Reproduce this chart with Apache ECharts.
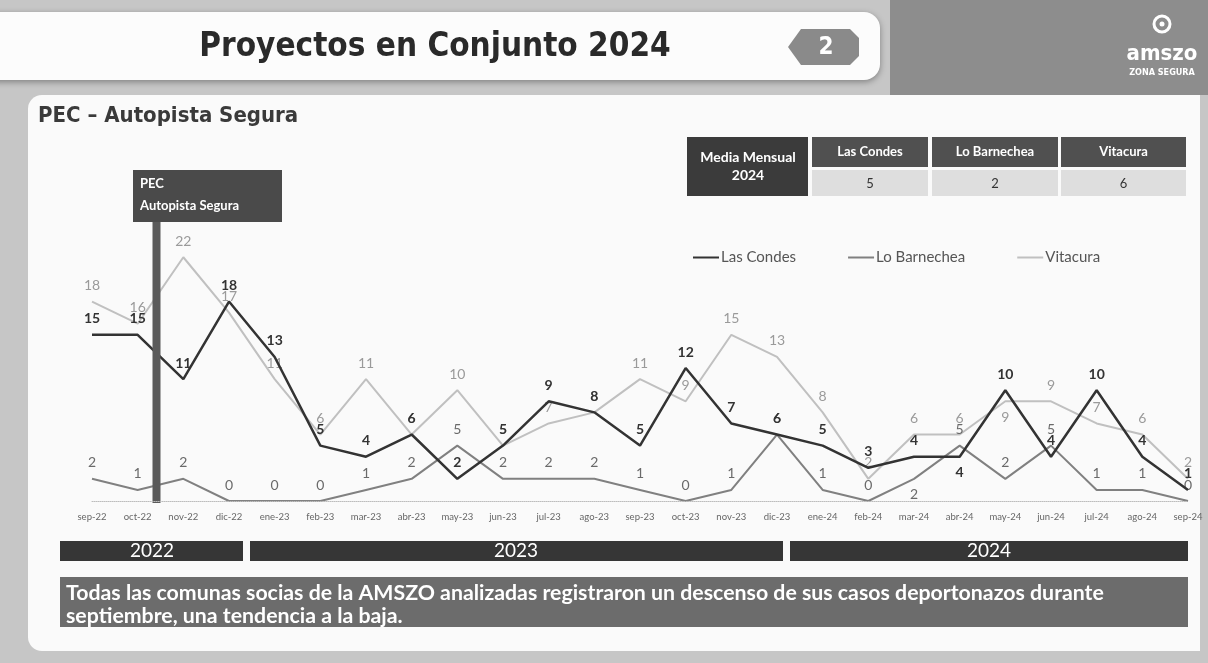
<!DOCTYPE html>
<html>
<head>
<meta charset="utf-8">
<script src="https://cdn.jsdelivr.net/npm/echarts@6/dist/echarts.min.js"></script>
<style>
  html, body { margin: 0; padding: 0; background: #c6c6c6; }
  #chart { width: 1208px; height: 663px; }
</style>
</head>
<body>
<div id="chart"></div>
<script>
// meses sep-22 .. sep-24
const months = ["sep-22", "oct-22", "nov-22", "dic-22", "ene-23", "feb-23", "mar-23", "abr-23", "may-23",
    "jun-23", "jul-23", "ago-23", "sep-23", "oct-23", "nov-23", "dic-23", "ene-24", "feb-24", "mar-24",
    "abr-24", "may-24", "jun-24", "jul-24", "ago-24", "sep-24"];
const lasCondes = [15, 15, 11, 18, 13, 5, 4, 6, 2, 5, 9, 8, 5, 12, 7, 6, 5, 3, 4, 4, 10, 4, 10, 4, 1];
const loBarnechea = [2, 1, 2, 0, 0, 0, 1, 2, 5, 2, 2, 2, 1, 0, 1, 6, 1, 0, 2, 5, 2, 5, 1, 1, 0];
const vitacura = [18, 16, 22, 17, 11, 6, 11, 6, 10, 5, 7, 8, 11, 9, 15, 13, 8, 2, 6, 6, 9, 9, 7, 6, 2];
// media mensual 2024
const tableHeaders = ["Las Condes", "Lo Barnechea", "Vitacura"];
const tableValues = [5, 2, 6];
// etiquetas que van bajo el punto
const lcBelow = [19];
const lbBelow = [18];
const vitBelow = [20];

const font = "Lato, 'Open Sans', sans-serif";
const condensed = "'DejaVu Sans Condensed', 'Liberation Sans Narrow', Roboto, sans-serif";

function withLabels(values, below) {
    return values.map((v, i) => below.indexOf(i) >= 0 ? { value: v, label: { position: "bottom" } } : v);
}

const chart = echarts.init(document.getElementById("chart"));

// decoración de la lámina
const deco = [
    // panel derecho con logo
    { type: "rect", shape: { x: 890, y: 0, width: 318, height: 95 }, style: { fill: "#8d8d8d" }, z: -5 },
    { type: "circle", shape: { cx: 1162, cy: 24, r: 8 }, style: { fill: "none", stroke: "#fff", lineWidth: 3 }, z: -4 },
    { type: "circle", shape: { cx: 1162, cy: 24, r: 2.5 }, style: { fill: "#fff" }, z: -4 },
    { type: "text", x: 1162, y: 54, style: { text: "amszo", fill: "#fff", font: "bold 22px " + condensed, align: "center", verticalAlign: "middle" }, z: -4 },
    { type: "text", x: 1162, y: 73, style: { text: "ZONA SEGURA", fill: "#fff", font: "bold 9px " + condensed, align: "center", verticalAlign: "middle" }, z: -4 },
    // barra de título
    { type: "rect", shape: { x: -20, y: 12, width: 900, height: 68, r: [0, 16, 16, 0] },
      style: { fill: "#fcfcfc", shadowBlur: 6, shadowColor: "rgba(0,0,0,0.35)", shadowOffsetY: 2 }, z: -4 },
    { type: "text", x: 435, y: 47, style: { text: "Proyectos en Conjunto 2024", fill: "#2a2a2a", font: "bold 33px " + condensed, align: "center", verticalAlign: "middle" }, z: -3 },
    { type: "polygon", shape: { points: [[788, 47], [801, 29], [850, 29], [859, 38], [859, 56], [850, 65], [801, 65]] }, style: { fill: "#8a8a8a" }, z: -3 },
    { type: "text", x: 826, y: 48, style: { text: "2", fill: "#fff", font: "bold 24px " + condensed, align: "center", verticalAlign: "middle" }, z: -2 },
    // panel de contenido
    { type: "rect", shape: { x: 28, y: 95, width: 1172, height: 556, r: [14, 0, 0, 14] }, style: { fill: "#fafafa" }, z: -5 },
    { type: "text", x: 38, y: 116, style: { text: "PEC – Autopista Segura", fill: "#3a3a3a", font: "bold 22px " + condensed, verticalAlign: "middle" }, z: -4 },
    // tabla media mensual
    { type: "rect", shape: { x: 687, y: 137, width: 121, height: 59 }, style: { fill: "#3b3b3b" }, z: -4 },
    { type: "text", x: 748, y: 157, style: { text: "Media Mensual", fill: "#fff", font: "bold 14px " + font, align: "center", verticalAlign: "middle" }, z: -3 },
    { type: "text", x: 748, y: 175, style: { text: "2024", fill: "#fff", font: "bold 14px " + font, align: "center", verticalAlign: "middle" }, z: -3 },
    // año
    { type: "rect", shape: { x: 60, y: 541, width: 183, height: 20 }, style: { fill: "#363636" }, z: -4 },
    { type: "text", x: 152, y: 551, style: { text: "2022", fill: "#fff", font: "19px " + font, align: "center", verticalAlign: "middle" }, z: -3 },
    { type: "rect", shape: { x: 250, y: 541, width: 533, height: 20 }, style: { fill: "#363636" }, z: -4 },
    { type: "text", x: 516, y: 551, style: { text: "2023", fill: "#fff", font: "19px " + font, align: "center", verticalAlign: "middle" }, z: -3 },
    { type: "rect", shape: { x: 790, y: 541, width: 398, height: 20 }, style: { fill: "#363636" }, z: -4 },
    { type: "text", x: 989, y: 551, style: { text: "2024", fill: "#fff", font: "19px " + font, align: "center", verticalAlign: "middle" }, z: -3 },
    // conclusión
    { type: "rect", shape: { x: 60, y: 577, width: 1128, height: 50 }, style: { fill: "#6c6c6c" }, z: -4 },
    { type: "text", x: 66, y: 593, style: { text: "Todas las comunas socias de la AMSZO analizadas registraron un descenso de sus casos deportonazos durante", fill: "#fff", font: "bold 21.3px " + font, verticalAlign: "middle" }, z: -3 },
    { type: "text", x: 66, y: 616, style: { text: "septiembre, una tendencia a la baja.", fill: "#fff", font: "bold 21.3px " + font, verticalAlign: "middle" }, z: -3 }
];
const cellX = [812, 932, 1061];
const cellW = [116, 126, 125];
tableHeaders.forEach((h, i) => {
    deco.push({ type: "rect", shape: { x: cellX[i], y: 137, width: cellW[i], height: 30 }, style: { fill: "#505050" }, z: -4 });
    deco.push({ type: "text", x: cellX[i] + cellW[i] / 2, y: 152, style: { text: h, fill: "#fff", font: "bold 13px " + font, align: "center", verticalAlign: "middle" }, z: -3 });
    deco.push({ type: "rect", shape: { x: cellX[i], y: 170, width: cellW[i], height: 26 }, style: { fill: "#dedede" }, z: -4 });
    deco.push({ type: "text", x: cellX[i] + cellW[i] / 2, y: 184, style: { text: String(tableValues[i]), fill: "#333", font: "13px " + font, align: "center", verticalAlign: "middle" }, z: -3 });
});

const lineLabel = { show: true, position: "top", distance: 9, fontFamily: font, fontSize: 14 };

chart.setOption({
    backgroundColor: "#c6c6c6",
    animation: false,
    legend: {
        data: ["Las Condes", "Lo Barnechea", "Vitacura"],
        left: 688,
        top: 245,
        icon: "rect",
        itemWidth: 26,
        itemHeight: 2,
        itemGap: 52,
        textStyle: { fontFamily: font, fontSize: 15, color: "#555", padding: [0, 0, 0, -3] }
    },
    grid: { left: 92, right: 20, top: 224, bottom: 162 },
    xAxis: {
        type: "category",
        data: months,
        boundaryGap: false,
        z: 10,
        axisLine: { lineStyle: { color: "#bdbdbd", type: "dotted", width: 1 } },
        axisTick: { show: false },
        axisLabel: { fontFamily: font, fontSize: 9.5, color: "#666", margin: 11, interval: 0 }
    },
    yAxis: { type: "value", min: 0, max: 25, show: false, splitLine: { show: false } },
    series: [
        {
            name: "Vitacura", type: "line", data: withLabels(vitacura, vitBelow), symbol: "circle", symbolSize: 0, z: 2,
            lineStyle: { color: "#c0c0c0", width: 2 }, itemStyle: { color: "#c0c0c0" },
            label: Object.assign({}, lineLabel, { color: "#9a9a9a" })
        },
        {
            name: "Lo Barnechea", type: "line", data: withLabels(loBarnechea, lbBelow), symbol: "circle", symbolSize: 0, z: 3,
            lineStyle: { color: "#808080", width: 2 }, itemStyle: { color: "#808080" },
            label: Object.assign({}, lineLabel, { color: "#6a6a6a" })
        },
        {
            name: "Las Condes", type: "line", data: withLabels(lasCondes, lcBelow), symbol: "circle", symbolSize: 0, z: 4,
            lineStyle: { color: "#333333", width: 2.5 }, itemStyle: { color: "#333333" },
            label: Object.assign({}, lineLabel, { color: "#333", fontWeight: "bold" })
        }
    ],
    graphic: deco
});

// barra vertical PEC entre oct-22 y nov-22
const p1 = chart.convertToPixel({ seriesIndex: 0 }, [1, 0]);
const p2 = chart.convertToPixel({ seriesIndex: 0 }, [2, 0]);
const barX = (p1[0] + p2[0]) / 2 - 4;
chart.setOption({
    graphic: deco.concat([
        { type: "rect", shape: { x: barX - 4, y: 195, width: 8, height: p1[1] - 195 + 2 }, style: { fill: "#5a5a5a" }, z: 5 },
        { type: "rect", shape: { x: 133, y: 170, width: 149, height: 52 }, style: { fill: "#4a4a4a" }, z: 6 },
        { type: "text", x: 140, y: 184, style: { text: "PEC", fill: "#fff", font: "bold 13px " + font, verticalAlign: "middle" }, z: 7 },
        { type: "text", x: 140, y: 206, style: { text: "Autopista Segura", fill: "#fff", font: "bold 13px " + font, verticalAlign: "middle" }, z: 7 }
    ])
});
</script>
</body>
</html>
